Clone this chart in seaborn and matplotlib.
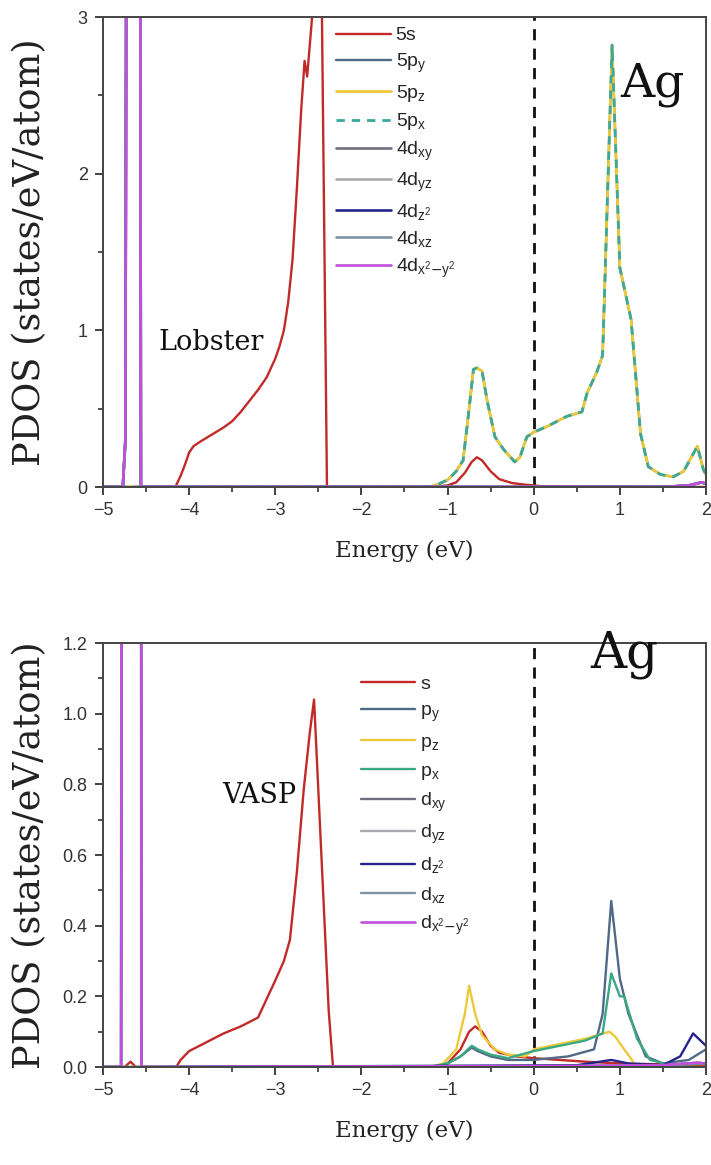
import numpy as np
import pandas as pd
import matplotlib
matplotlib.use("Agg")
import matplotlib.pyplot as plt
from matplotlib.ticker import MultipleLocator, FormatStrFormatter
import seaborn as sns

# ---------------- data: Lobster projection (top panel) ----------------
top_s_E = [-5.0, -4.16, -4.10, -4.05, -4.00, -3.95, -3.87, -3.75, -3.60, -3.50, -3.40, -3.30,
           -3.20, -3.10, -3.00, -2.95, -2.90, -2.85, -2.80, -2.75, -2.70, -2.66, -2.63, -2.58,
           -2.52, -2.46, -2.40, -1.20, -1.00, -0.90, -0.80, -0.72, -0.66, -0.60, -0.50, -0.40,
           -0.25, -0.10, 0.10, 2.00]
top_s_v = [0.0, 0.0, 0.07, 0.14, 0.22, 0.26, 0.29, 0.33, 0.38, 0.42, 0.48, 0.55,
           0.62, 0.70, 0.82, 0.90, 1.00, 1.18, 1.45, 1.90, 2.40, 2.72, 2.62, 2.95,
           3.40, 3.10, 0.0, 0.0, 0.01, 0.03, 0.09, 0.16, 0.19, 0.17, 0.10, 0.05,
           0.025, 0.015, 0.005, 0.0]

top_p_E = [-5.0, -1.20, -1.10, -1.00, -0.90, -0.82, -0.76, -0.70, -0.66, -0.60, -0.54, -0.45,
           -0.35, -0.22, -0.16, -0.08, 0.00, 0.15, 0.38, 0.56, 0.62, 0.73, 0.80, 0.91,
           1.00, 1.13, 1.24, 1.33, 1.47, 1.62, 1.74, 1.90, 1.97, 2.00]
top_p_v = [0.0, 0.0, 0.02, 0.045, 0.10, 0.17, 0.45, 0.75, 0.76, 0.74, 0.55, 0.32,
           0.24, 0.16, 0.19, 0.32, 0.35, 0.385, 0.45, 0.48, 0.60, 0.73, 0.84, 2.82,
           1.40, 1.07, 0.34, 0.13, 0.08, 0.065, 0.10, 0.26, 0.11, 0.08]

top_d_E = [-5.0, -4.77, -4.74, -4.715, -4.64, -4.575, -4.56, -4.40, 1.50, 1.80, 1.95, 2.00]
top_d_v = [0.0, 0.0, 0.30, 8.0, 8.0, 8.0, 0.0, 0.0, 0.0, 0.01, 0.03, 0.02]

# ---------------- data: VASP projection (bottom panel) ----------------
bot_s_E = [-5.0, -4.75, -4.68, -4.62, -4.15, -4.10, -4.00, -3.80, -3.60, -3.40, -3.20, -3.00,
           -2.90, -2.83, -2.75, -2.67, -2.60, -2.55, -2.38, -2.33, -1.20, -1.00, -0.85, -0.75,
           -0.68, -0.60, -0.50, -0.40, -0.20, 0.00, 0.30, 0.60, 1.00, 2.00]
bot_s_v = [0.0, 0.0, 0.015, 0.0, 0.0, 0.02, 0.045, 0.07, 0.095, 0.115, 0.14, 0.245,
           0.30, 0.36, 0.55, 0.785, 0.945, 1.04, 0.16, 0.0, 0.0, 0.01, 0.05, 0.10,
           0.115, 0.10, 0.06, 0.04, 0.03, 0.025, 0.02, 0.015, 0.01, 0.005]

bot_py_E = [-5.0, -1.20, -1.00, -0.85, -0.72, -0.65, -0.50, -0.30, 0.00, 0.40, 0.70, 0.80,
            0.90, 1.00, 1.10, 1.30, 1.50, 1.80, 2.00]
bot_py_v = [0.0, 0.0, 0.01, 0.03, 0.055, 0.045, 0.03, 0.02, 0.02, 0.03, 0.05, 0.15,
            0.47, 0.25, 0.15, 0.03, 0.01, 0.02, 0.05]

bot_pz_E = [-5.0, -1.20, -1.05, -0.90, -0.80, -0.75, -0.68, -0.60, -0.45, -0.30, -0.10, 0.00,
            0.30, 0.60, 0.88, 0.95, 1.05, 1.20, 2.00]
bot_pz_v = [0.0, 0.0, 0.01, 0.05, 0.15, 0.23, 0.15, 0.09, 0.05, 0.035, 0.03, 0.05,
            0.065, 0.08, 0.10, 0.085, 0.05, 0.0, 0.0]

bot_px_E = [-5.0, -1.20, -1.00, -0.85, -0.72, -0.65, -0.50, -0.30, 0.00, 0.30, 0.60, 0.80,
            0.90, 1.00, 1.05, 1.20, 1.35, 1.60, 2.00]
bot_px_v = [0.0, 0.0, 0.01, 0.03, 0.06, 0.05, 0.035, 0.025, 0.045, 0.06, 0.075, 0.095,
            0.265, 0.20, 0.20, 0.08, 0.02, 0.005, 0.01]

bot_d_E = [-5.0, -4.79, -4.775, -4.70, -4.565, -4.555, -4.40, 0.50, 1.50, 1.90, 2.00]
bot_d_v = [0.0, 0.0, 6.0, 6.0, 6.0, 0.0, 0.0, 0.003, 0.005, 0.012, 0.01]

bot_dz2_E = [-5.0, -4.79, -4.775, -4.70, -4.565, -4.555, -4.40, 0.50, 0.90, 1.10, 1.50, 1.70,
             1.85, 2.00]
bot_dz2_v = [0.0, 0.0, 6.0, 6.0, 6.0, 0.0, 0.0, 0.005, 0.02, 0.01, 0.005, 0.03,
             0.095, 0.06]

top_labels = ["5s", "5p$_y$", "5p$_z$", "5p$_x$", "4d$_{xy}$", "4d$_{yz}$", "4d$_{z^2}$",
              "4d$_{xz}$", "4d$_{x^2\\mathrm{-}y^2}$"]
bot_labels = ["s", "p$_y$", "p$_z$", "p$_x$", "d$_{xy}$", "d$_{yz}$", "d$_{z^2}$",
              "d$_{xz}$", "d$_{x^2\\mathrm{-}y^2}$"]

colors = ["#c22a2a", "#4f6a86", "#ecc93a", "#3aa89a", "#6e6e7e", "#a9a9ad", "#24248c",
          "#7f93a3", "#c04fdc"]
bot_px_color = "#3aa882"

# ---------------- styling ----------------
sns.set_theme(style="ticks")
plt.rcParams["font.family"] = ["Liberation Sans", "DejaVu Sans"]
plt.rcParams["mathtext.default"] = "regular"
plt.rcParams["axes.edgecolor"] = "#333333"
plt.rcParams["axes.linewidth"] = 1.4

serif = ["DejaVu Serif", "Liberation Serif"]

fig = plt.figure(figsize=(7.11, 11.65), dpi=100)
W, H = 711, 1165


def axes_px(l, t, r, b):
    return fig.add_axes([l / W, 1 - b / H, (r - l) / W, (b - t) / H])


ax1 = axes_px(103, 17, 706, 487)
ax2 = axes_px(103, 643, 706, 1067)


def draw(ax, E, v, color, label, **kw):
    sns.lineplot(x=E, y=v, ax=ax, color=color, label=label, lw=kw.pop("lw", 1.7),
                 estimator=None, sort=False, **kw)


# top panel
draw(ax1, top_s_E, top_s_v, colors[0], top_labels[0])
draw(ax1, top_p_E, top_p_v, colors[1], top_labels[1])
draw(ax1, top_p_E, top_p_v, colors[2], top_labels[2], lw=2.0)
draw(ax1, top_p_E, top_p_v, colors[3], top_labels[3], lw=2.0, dashes=(3, 2.5))
for i in range(4, 9):
    draw(ax1, top_d_E, top_d_v, colors[i], top_labels[i], lw=1.9)

# bottom panel
draw(ax2, bot_s_E, bot_s_v, colors[0], bot_labels[0])
draw(ax2, bot_py_E, bot_py_v, colors[1], bot_labels[1])
draw(ax2, bot_pz_E, bot_pz_v, colors[2], bot_labels[2])
draw(ax2, bot_px_E, bot_px_v, bot_px_color, bot_labels[3])
draw(ax2, bot_d_E, bot_d_v, colors[4], bot_labels[4])
draw(ax2, bot_d_E, bot_d_v, colors[5], bot_labels[5])
draw(ax2, bot_dz2_E, bot_dz2_v, colors[6], bot_labels[6])
draw(ax2, bot_d_E, bot_d_v, colors[7], bot_labels[7])
draw(ax2, bot_d_E, bot_d_v, colors[8], bot_labels[8], lw=1.9)

for ax, ymax, major, minor, fmt in [(ax1, 3.0, 1.0, 0.5, "%d"), (ax2, 1.2, 0.2, 0.1, "%.1f")]:
    ax.set_xlim(-5, 2)
    ax.set_ylim(0, ymax)
    ax.axvline(0, color="#111111", lw=2.0, ls=(0, (4, 3)), zorder=1)
    ax.xaxis.set_major_locator(MultipleLocator(1))
    ax.xaxis.set_minor_locator(MultipleLocator(0.5))
    ax.yaxis.set_major_locator(MultipleLocator(major))
    ax.yaxis.set_minor_locator(MultipleLocator(minor))
    ax.yaxis.set_major_formatter(FormatStrFormatter(fmt))
    ax.tick_params(which="major", direction="out", length=6, width=1.3, color="#333333",
                   labelsize=13, labelcolor="#333333", pad=5)
    ax.tick_params(which="minor", direction="out", length=3.5, width=1.2, color="#333333")
    for sp in ax.spines.values():
        sp.set_visible(True)
        sp.set_color("#444444")
        sp.set_linewidth(1.4)
    ax.set_xlabel("Energy (eV)", family=serif, fontsize=16.5, color="#222222", labelpad=15)
    ax.set_ylabel("PDOS (states/eV/atom)", family=serif, fontsize=26.5, color="#222222")
    ax.yaxis.set_label_coords(-0.091, 0.5)

ax1.text(-4.36, 0.875, "Lobster", family=serif, fontsize=19.5, color="#111111",
         va="baseline")
ax1.text(1.0, 2.49, "Ag", family=serif, fontsize=34, color="#111111", va="baseline")
ax2.text(-3.62, 0.748, "VASP", family=serif, fontsize=19.5, color="#111111", va="baseline")
ax2.text(0.66, 1.13, "Ag", family=serif, fontsize=36, color="#111111", va="baseline")

leg1 = ax1.legend(loc="upper left", bbox_to_anchor=(0.366, 1.006), fontsize=14,
                  handlelength=2.8, handletextpad=0.25, labelspacing=0.39, borderpad=0.15,
                  frameon=True, fancybox=False, framealpha=1.0, edgecolor="white",
                  facecolor="white")
leg1.set_zorder(10)
leg2 = ax2.legend(loc="upper left", bbox_to_anchor=(0.405, 0.955), fontsize=14,
                  handlelength=2.8, handletextpad=0.25, labelspacing=0.47, borderpad=0.2,
                  frameon=False)

fig.savefig("out.png", dpi=100, facecolor="white")
